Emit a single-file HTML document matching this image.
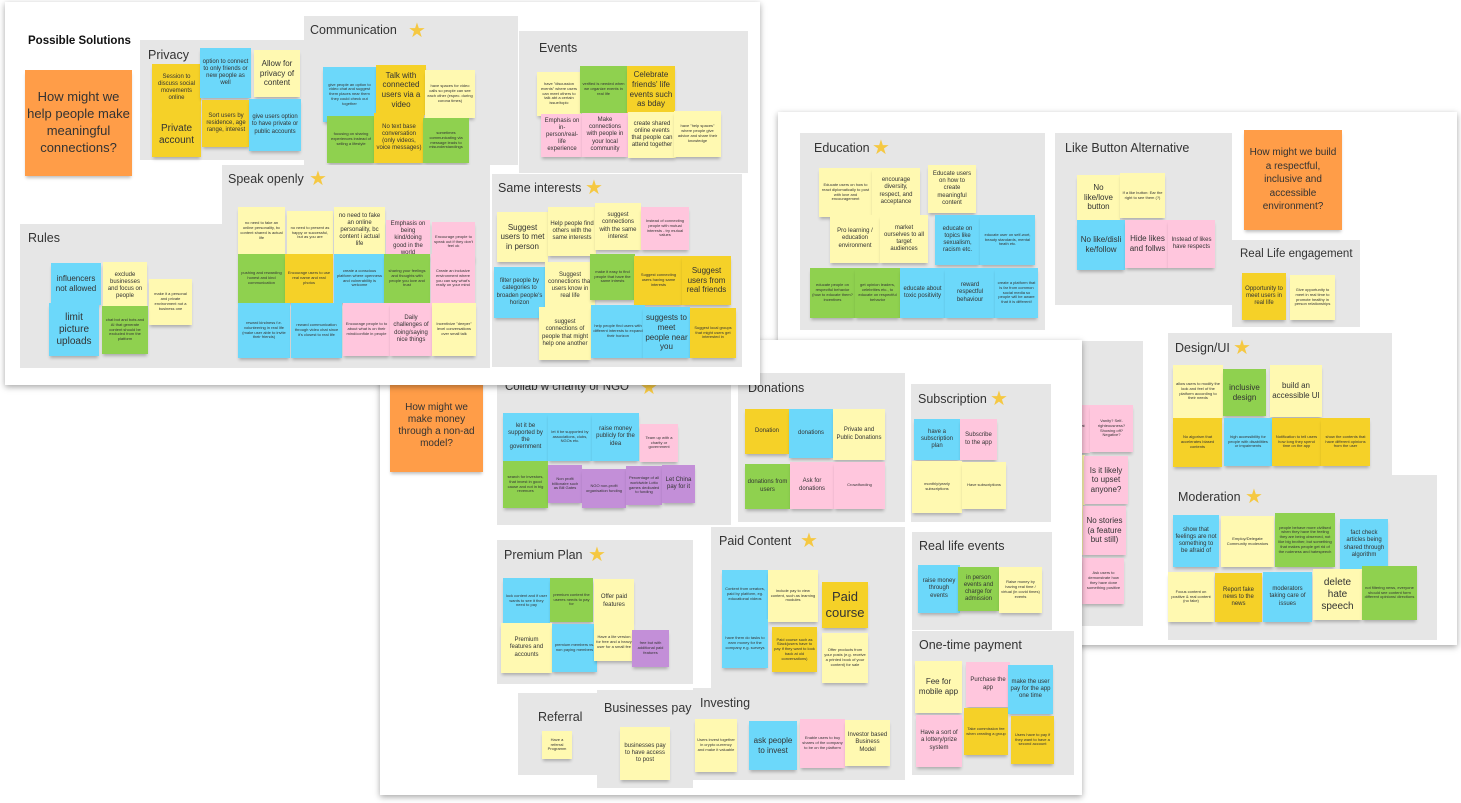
<!DOCTYPE html>
<html><head><meta charset="utf-8"><style>
*{margin:0;padding:0;box-sizing:border-box}
body{width:1461px;height:803px;background:#fff;position:relative;overflow:hidden;font-family:"Liberation Sans",sans-serif;color:#333}
.p{position:absolute;background:#fff;box-shadow:0 2px 6px rgba(0,0,0,.35)}
.s{position:absolute;background:#e6e6e6}
.t{position:absolute;font-size:12.5px;color:#333;white-space:nowrap}
.st{position:absolute;color:#f5c842;font-size:20px;line-height:20px}
.n{position:absolute;display:flex;align-items:center;justify-content:center;text-align:center;padding:2px;line-height:1.2;overflow:hidden;box-shadow:0 3px 3px -1px rgba(0,0,0,.25);color:#333}
.Y{background:#fff9b1}.D{background:#f5d128}.B{background:#6cd8fa}.G{background:#8fd14f}.P{background:#ffc6dd}.U{background:#c38fd8}.O{background:#ff9d48}
.s1{font-size:4px}.s2{font-size:6px}.s3{font-size:8px}.s4{font-size:10px}.s5{font-size:13px}
</style></head><body>

<!-- Panel B -->
<div class="p" style="left:778px;top:112px;width:679px;height:533px"></div>
<div class="s" style="left:800px;top:133px;width:245px;height:197px"></div>
<div class="t" style="left:814px;top:141px">Education</div><div class="st" style="left:872px;top:138px">★</div>
<div class="n Y s1" style="left:819px;top:168px;width:53px;height:49px">Educate users on how to react diplomatically to post with love and encouragement</div>
<div class="n Y s2" style="left:872px;top:168px;width:48px;height:47px">encourage diversity, respect, and acceptance</div>
<div class="n Y s2" style="left:928px;top:165px;width:48px;height:48px">Educate users on how to create meaningful content</div>
<div class="n Y s2" style="left:830px;top:215px;width:50px;height:48px">Pro learning / education environment</div>
<div class="n Y s2" style="left:880px;top:215px;width:48px;height:48px">market ourselves to all target audiences</div>
<div class="n B s2" style="left:935px;top:215px;width:45px;height:50px">educate on topics like sexualism, racism etc.</div>
<div class="n B s1" style="left:980px;top:215px;width:55px;height:50px">educate user on self-wort, beauty standards, mental heath etc.</div>
<div class="n G s1" style="left:810px;top:268px;width:45px;height:50px">educate people on respectful behavior (how to educate them? incentives</div>
<div class="n G s1" style="left:855px;top:268px;width:45px;height:50px">get opinion leaders, celebrities etc., to educate on respectful behavior</div>
<div class="n B s2" style="left:900px;top:268px;width:45px;height:50px">educate about toxic positivity</div>
<div class="n B s2" style="left:945px;top:268px;width:50px;height:50px">reward respectful behaviour</div>
<div class="n B s1" style="left:995px;top:268px;width:43px;height:50px">create a platform that is far from common social media so people will be aware that it is different!</div>

<div class="s" style="left:1055px;top:133px;width:177px;height:172px"></div>
<div class="t" style="left:1065px;top:141px">Like Button Alternative</div>
<div class="n Y s3" style="left:1077px;top:175px;width:43px;height:45px">No like/love button</div>
<div class="n Y s1" style="left:1120px;top:173px;width:45px;height:45px">If a like button: Ear the right to see them (?)</div>
<div class="n B s3" style="left:1077px;top:220px;width:48px;height:50px">No like/disli ke/follow</div>
<div class="n P s3" style="left:1125px;top:220px;width:45px;height:48px">Hide likes and follws</div>
<div class="n P s2" style="left:1168px;top:220px;width:47px;height:48px">Instead of likes have respects</div>
<div class="n O s4" style="left:1244px;top:130px;width:98px;height:100px;line-height:1.35">How might we build a respectful, inclusive and accessible environment?</div>
<div class="s" style="left:1232px;top:240px;width:128px;height:87px"></div>
<div class="t" style="left:1240px;top:248px;font-size:11.5px">Real Life engagement</div>
<div class="n D s2" style="left:1242px;top:273px;width:44px;height:47px">Opportunity to meet users in real life</div>
<div class="n Y s1" style="left:1290px;top:275px;width:45px;height:45px">Give opportunity to meet in real time to promote healthy in person relationships</div>

<div class="s" style="left:1068px;top:341px;width:75px;height:285px"></div>
<div class="n P s1" style="left:1060px;top:405px;width:30px;height:48px">...s to what about</div>
<div class="n P s1" style="left:1090px;top:405px;width:43px;height:47px">Vanity? Self-righteousness? Showing off? Negative?</div>
<div class="n Y s2" style="left:1060px;top:455px;width:25px;height:50px"></div>
<div class="n P s3" style="left:1084px;top:456px;width:44px;height:48px">Is it likely to upset anyone?</div>
<div class="n Y s2" style="left:1060px;top:505px;width:23px;height:50px"></div>
<div class="n P s3" style="left:1083px;top:506px;width:43px;height:49px">No stories (a feature but still)</div>
<div class="n P s1" style="left:1060px;top:557px;width:23px;height:47px"></div>
<div class="n P s1" style="left:1083px;top:558px;width:41px;height:46px">Ask users to demonstrate how they have done something positive</div>

<div class="s" style="left:1168px;top:333px;width:224px;height:142px"></div>
<div class="t" style="left:1175px;top:341px">Design/UI</div><div class="st" style="left:1233px;top:338px">★</div>
<div class="n Y s1" style="left:1173px;top:365px;width:50px;height:53px">allow users to modify the look and feel of the platform according to their needs</div>
<div class="n G s3" style="left:1223px;top:369px;width:43px;height:47px">inclusive design</div>
<div class="n Y s3" style="left:1270px;top:365px;width:52px;height:52px">build an accessible UI</div>
<div class="n D s1" style="left:1173px;top:418px;width:49px;height:49px">No algorism that accelerates biased contents</div>
<div class="n B s1" style="left:1224px;top:418px;width:48px;height:48px">high accessibility for people with disabilities or impairments</div>
<div class="n D s1" style="left:1272px;top:418px;width:49px;height:48px">Notification to tell users how long they spend time on the app</div>
<div class="n D s1" style="left:1321px;top:418px;width:49px;height:48px">show the contents that have different opinions from the user</div>

<div class="s" style="left:1168px;top:475px;width:269px;height:165px"></div>
<div class="t" style="left:1178px;top:490px">Moderation</div><div class="st" style="left:1245px;top:487px">★</div>
<div class="n B s2" style="left:1173px;top:515px;width:46px;height:52px">show that feelings are not something to be afraid of</div>
<div class="n Y s1" style="left:1221px;top:516px;width:53px;height:51px">Employ/Delegate Community moderators</div>
<div class="n G s1" style="left:1275px;top:513px;width:60px;height:54px">people behave more civilised when they have the feeling they are being observed, not like big brother, but something that makes people get rid of the rudeness and hatespeech</div>
<div class="n B s2" style="left:1340px;top:519px;width:48px;height:51px">fact check articles being shared through algorithm</div>
<div class="n Y s1" style="left:1168px;top:572px;width:46px;height:50px">Focus content on positive &amp; real content (no fake)</div>
<div class="n D s2" style="left:1215px;top:573px;width:47px;height:49px">Report fake news to the news</div>
<div class="n B s2" style="left:1263px;top:572px;width:49px;height:50px">moderators taking care of issues</div>
<div class="n Y s4" style="left:1313px;top:569px;width:49px;height:51px">delete hate speech</div>
<div class="n G s1" style="left:1362px;top:566px;width:55px;height:54px">not filtering news, everyone should see content form different opinions/ directions</div>

<!-- Panel C -->
<div class="p" style="left:380px;top:340px;width:702px;height:455px"></div>
<div class="n O s4" style="left:390px;top:380px;width:93px;height:92px">How might we make money through a non-ad model?</div>
<div class="s" style="left:497px;top:385px;width:234px;height:140px"></div>
<div class="t" style="left:505px;top:381px;font-size:11.5px">Collab w charity or NGO</div><div class="st" style="left:640px;top:378px">★</div>
<div class="n B s2" style="left:503px;top:413px;width:45px;height:48px">let it be supported by the government</div>
<div class="n B s1" style="left:548px;top:413px;width:44px;height:48px">let it be supported by associations, clubs, NGOs etc.</div>
<div class="n B s2" style="left:592px;top:413px;width:47px;height:48px">raise money publicly for the idea</div>
<div class="n P s1" style="left:640px;top:424px;width:38px;height:38px">Team up with a charity or government</div>
<div class="n G s1" style="left:503px;top:461px;width:45px;height:47px">search for investors, that invest in good cause and not in big revenues</div>
<div class="n U s1" style="left:548px;top:465px;width:34px;height:38px">Non profit billionaire such as Bill Gates</div>
<div class="n U s1" style="left:582px;top:469px;width:44px;height:39px">NGO non-profit organisation funding</div>
<div class="n U s1" style="left:626px;top:466px;width:36px;height:39px">Percentage of all worldwide Lotto games dedicated to funding</div>
<div class="n U s2" style="left:662px;top:465px;width:33px;height:38px">Let China pay for it</div>

<div class="s" style="left:738px;top:373px;width:167px;height:149px"></div>
<div class="t" style="left:748px;top:381px">Donations</div>
<div class="n D s2" style="left:745px;top:409px;width:44px;height:45px">Donation</div>
<div class="n B s2" style="left:789px;top:409px;width:44px;height:49px">donations</div>
<div class="n Y s2" style="left:833px;top:409px;width:52px;height:51px">Private and Public Donations</div>
<div class="n G s2" style="left:745px;top:464px;width:45px;height:45px">donations from users</div>
<div class="n P s2" style="left:790px;top:462px;width:44px;height:47px">Ask for donations</div>
<div class="n P s1" style="left:834px;top:462px;width:51px;height:47px">Crowdfunding</div>

<div class="s" style="left:497px;top:540px;width:196px;height:144px"></div>
<div class="t" style="left:504px;top:548px">Premium Plan</div><div class="st" style="left:588px;top:545px">★</div>
<div class="n B s1" style="left:503px;top:578px;width:47px;height:46px">lock content and if user wants to see it they need to pay</div>
<div class="n G s1" style="left:550px;top:578px;width:43px;height:44px">premium content the useres needs to pay for</div>
<div class="n Y s2" style="left:594px;top:579px;width:40px;height:45px">Offer paid features</div>
<div class="n Y s2" style="left:501px;top:623px;width:51px;height:50px">Premium features and accounts</div>
<div class="n B s1" style="left:552px;top:624px;width:45px;height:48px">premium members vs. non paying members</div>
<div class="n Y s1" style="left:594px;top:624px;width:40px;height:37px">Have a lite version for free and a heavy user for a small fee</div>
<div class="n U s1" style="left:632px;top:630px;width:37px;height:37px">free but with additional paid features</div>

<div class="s" style="left:711px;top:527px;width:194px;height:253px"></div>
<div class="t" style="left:719px;top:534px">Paid Content</div><div class="st" style="left:800px;top:531px">★</div>
<div class="n B s1" style="left:722px;top:570px;width:46px;height:49px">Content from creators, paid by platform, eg. educational videos</div>
<div class="n Y s1" style="left:768px;top:570px;width:50px;height:52px">include pay to view content, such as learning modules</div>
<div class="n D s5" style="left:822px;top:582px;width:46px;height:46px">Paid course</div>
<div class="n B s1" style="left:722px;top:619px;width:46px;height:49px">have them do tasks to earn money for the company e.g. surveys</div>
<div class="n D s1" style="left:772px;top:627px;width:45px;height:45px">Paid course such as Slack(users have to pay if they want to look back at old conversations)</div>
<div class="n Y s1" style="left:822px;top:633px;width:46px;height:50px">Offer products from your posts (e.g. receive a printed book of your content) for sale</div>

<div class="s" style="left:518px;top:693px;width:82px;height:82px"></div>
<div class="t" style="left:538px;top:710px">Referral</div>
<div class="n Y s1" style="left:542px;top:731px;width:30px;height:28px">Have a referral Programm</div>
<div class="s" style="left:597px;top:690px;width:96px;height:98px"></div>
<div class="t" style="left:604px;top:701px">Businesses pay</div>
<div class="n Y s2" style="left:620px;top:727px;width:50px;height:53px">businesses pay to have access to post</div>
<div class="s" style="left:693px;top:688px;width:212px;height:92px"></div>
<div class="t" style="left:700px;top:696px">Investing</div>
<div class="n Y s1" style="left:695px;top:719px;width:42px;height:53px">Users invest together in crypto currency and make it valuable</div>
<div class="n B s3" style="left:749px;top:721px;width:48px;height:49px">ask people to invest</div>
<div class="n P s1" style="left:800px;top:719px;width:45px;height:49px">Enable users to buy shares of the company to be on the platform</div>
<div class="n Y s2" style="left:845px;top:720px;width:45px;height:46px">Investor based Business Model</div>

<div class="s" style="left:911px;top:384px;width:140px;height:138px"></div>
<div class="t" style="left:918px;top:392px">Subscription</div><div class="st" style="left:990px;top:389px">★</div>
<div class="n B s2" style="left:914px;top:419px;width:46px;height:41px">have a subscription plan</div>
<div class="n P s2" style="left:960px;top:419px;width:37px;height:41px">Subscribe to the app</div>
<div class="n Y s1" style="left:912px;top:461px;width:50px;height:52px">monthly/yearly subscriptions</div>
<div class="n Y s1" style="left:962px;top:462px;width:44px;height:47px">Have subscriptions</div>

<div class="s" style="left:912px;top:532px;width:140px;height:98px"></div>
<div class="t" style="left:919px;top:539px">Real life events</div>
<div class="n B s2" style="left:918px;top:565px;width:42px;height:48px">raise money through events</div>
<div class="n G s2" style="left:958px;top:567px;width:41px;height:44px">in person events and charge for admission</div>
<div class="n Y s1" style="left:999px;top:567px;width:43px;height:46px">Raise money by having real time / virtual (in covid times) events</div>
<div class="s" style="left:912px;top:631px;width:162px;height:144px"></div>
<div class="t" style="left:919px;top:638px">One-time payment</div>
<div class="n Y s3" style="left:915px;top:661px;width:47px;height:52px">Fee for mobile app</div>
<div class="n P s2" style="left:966px;top:662px;width:44px;height:45px">Purchase the app</div>
<div class="n B s2" style="left:1008px;top:665px;width:45px;height:49px">make the user pay for the app one time</div>
<div class="n P s2" style="left:916px;top:715px;width:46px;height:52px">Have a sort of a lottery/prize system</div>
<div class="n D s1" style="left:964px;top:708px;width:44px;height:47px">Take commission fee when creating a group</div>
<div class="n D s1" style="left:1011px;top:716px;width:43px;height:48px">Users have to pay if they want to have a second account</div>

<!-- Panel A -->
<div class="p" style="left:5px;top:2px;width:755px;height:383px"></div>
<div class="t" style="left:28px;top:35px;font-weight:bold;font-size:11.5px;color:#111">Possible Solutions</div>
<div class="n O" style="left:25px;top:70px;width:107px;height:106px;font-size:13px;line-height:1.3">How might we help people make meaningful connections?</div>

<div class="s" style="left:140px;top:40px;width:165px;height:120px"></div>
<div class="t" style="left:148px;top:48px">Privacy</div>
<div class="n D s2" style="left:152px;top:64px;width:49px;height:48px">Session to discuss social movements online</div>
<div class="n B s2" style="left:200px;top:48px;width:51px;height:50px">option to connect to only friends or new people as well</div>
<div class="n Y s3" style="left:254px;top:50px;width:46px;height:47px">Allow for privacy of content</div>
<div class="n D s4" style="left:152px;top:112px;width:49px;height:45px">Private account</div>
<div class="n D s2" style="left:202px;top:100px;width:48px;height:47px">Sort users by residence, age range, interest</div>
<div class="n B s2" style="left:249px;top:99px;width:52px;height:52px">give users option to have private or public accounts</div>

<div class="s" style="left:304px;top:16px;width:214px;height:149px"></div>
<div class="t" style="left:310px;top:23px">Communication</div><div class="st" style="left:408px;top:21px">★</div>
<div class="n B s1" style="left:323px;top:67px;width:53px;height:55px">give people an option to video chat and suggest them places near them they could check out together</div>
<div class="n D s3" style="left:376px;top:65px;width:50px;height:50px">Talk with connected users via a video</div>
<div class="n Y s1" style="left:425px;top:70px;width:50px;height:48px">have spaces for video calls so people can see each other (espec. during corona times)</div>
<div class="n G s1" style="left:327px;top:116px;width:48px;height:47px">focusing on sharing experiences instead of selling a lifestyle</div>
<div class="n D s2" style="left:374px;top:113px;width:50px;height:50px">No text base conversation (only videos, voice messages)</div>
<div class="n G s1" style="left:423px;top:118px;width:46px;height:45px">sometimes communicating via message leads to misunderstandings</div>

<div class="s" style="left:519px;top:31px;width:229px;height:142px"></div>
<div class="t" style="left:539px;top:41px">Events</div>
<div class="n Y s1" style="left:537px;top:72px;width:44px;height:44px">have "discussion events" where users can meet others to talk abt a certain issue/topic</div>
<div class="n G s1" style="left:580px;top:66px;width:47px;height:47px">verified is needed when we organize events in real life</div>
<div class="n D s3" style="left:627px;top:66px;width:48px;height:47px">Celebrate friends' life events such as bday</div>
<div class="n P s2" style="left:541px;top:114px;width:42px;height:43px">Emphasis on in-person/real-life experience</div>
<div class="n P s2" style="left:582px;top:113px;width:46px;height:44px">Make connections with people in your local community</div>
<div class="n Y s2" style="left:628px;top:112px;width:48px;height:46px">create shared online events that people can attend together</div>
<div class="n Y s1" style="left:674px;top:111px;width:47px;height:46px">have "help spaces" where people give advice and share their knowledge</div>

<div class="s" style="left:20px;top:224px;width:202px;height:144px"></div>
<div class="t" style="left:28px;top:231px">Rules</div>
<div class="n B s3" style="left:51px;top:263px;width:50px;height:42px">influencers not allowed</div>
<div class="n Y s2" style="left:103px;top:262px;width:44px;height:48px">exclude businesses and focus on people</div>
<div class="n Y s1" style="left:149px;top:279px;width:43px;height:46px">make it a personal and private environment not a business one</div>
<div class="n B s4" style="left:49px;top:303px;width:50px;height:53px">limit picture uploads</div>
<div class="n G s1" style="left:102px;top:306px;width:46px;height:48px">chat bot and bots and AI that generate content should be excluded from the platform</div>

<div class="s" style="left:222px;top:165px;width:268px;height:203px"></div>
<div class="t" style="left:228px;top:172px">Speak openly</div><div class="st" style="left:309px;top:169px">★</div>
<div class="n Y s1" style="left:238px;top:207px;width:47px;height:48px">no need to fake an online personality, bc content shared is actual life</div>
<div class="n Y s1" style="left:287px;top:211px;width:46px;height:44px">no need to present as happy or successful, but as you are</div>
<div class="n Y s2" style="left:334px;top:207px;width:51px;height:47px">no need to fake an online personality, bc content i actual life</div>
<div class="n P s2" style="left:386px;top:220px;width:44px;height:38px">Emphasis on being kind/doing good in the world</div>
<div class="n P s1" style="left:432px;top:222px;width:43px;height:40px">Encourage people to speak out if they don't feel ok</div>
<div class="n G s1" style="left:238px;top:254px;width:47px;height:49px">pushing and rewarding honest and kind communication</div>
<div class="n D s1" style="left:285px;top:254px;width:48px;height:49px">Encourage users to use real name and real photos</div>
<div class="n B s1" style="left:334px;top:254px;width:51px;height:49px">create a conscious platform where openness and vulnerability is welcome</div>
<div class="n G s1" style="left:384px;top:254px;width:46px;height:49px">sharing your feelings and thoughts with people you love and trust</div>
<div class="n P s1" style="left:431px;top:254px;width:44px;height:49px">Create an inclusive environment where you can say what's really on your mind</div>
<div class="n B s1" style="left:238px;top:303px;width:52px;height:55px">reward kindness f.e. volunteering in real life (make user able to invite their friends)</div>
<div class="n B s1" style="left:291px;top:303px;width:51px;height:55px">reward communication through video chat since it's closest to real life</div>
<div class="n P s1" style="left:343px;top:303px;width:47px;height:53px">Encourage people to to about what is on their mind/confide in people</div>
<div class="n P s2" style="left:390px;top:303px;width:42px;height:53px">Daily challenges of doing/saying nice things</div>
<div class="n Y s1" style="left:432px;top:303px;width:44px;height:53px">Incentivize "deeper" level conversations over small talk</div>

<div class="s" style="left:492px;top:174px;width:250px;height:193px"></div>
<div class="t" style="left:498px;top:181px">Same interests</div><div class="st" style="left:585px;top:178px">★</div>
<div class="n Y s3" style="left:497px;top:212px;width:51px;height:50px">Suggest users to met in person</div>
<div class="n Y s2" style="left:548px;top:207px;width:48px;height:49px">Help people find others with the same interests</div>
<div class="n Y s2" style="left:595px;top:203px;width:46px;height:47px">suggest connections with the same interest</div>
<div class="n P s1" style="left:641px;top:207px;width:48px;height:43px">Instead of connecting people with mutual interests - try mutual values</div>
<div class="n B s2" style="left:494px;top:267px;width:51px;height:51px">filter people by categories to broaden people's horizon</div>
<div class="n Y s2" style="left:545px;top:262px;width:50px;height:48px">Suggest connections that users know in real life</div>
<div class="n G s1" style="left:590px;top:254px;width:45px;height:46px">make it easy to find people that have the same intrests</div>
<div class="n D s1" style="left:634px;top:256px;width:49px;height:49px">Suggest connecting users having same interests</div>
<div class="n D s3" style="left:682px;top:256px;width:49px;height:49px">Suggest users from real friends</div>
<div class="n Y s2" style="left:539px;top:307px;width:52px;height:53px">suggest connections of people that might help one another</div>
<div class="n B s1" style="left:591px;top:305px;width:54px;height:53px">help people find users with different interests to expand their horizon</div>
<div class="n B s3" style="left:643px;top:307px;width:47px;height:51px">suggests to meet people near you</div>
<div class="n D s1" style="left:690px;top:308px;width:46px;height:50px">Suggest local groups that might users get interested in</div>
</body></html>
